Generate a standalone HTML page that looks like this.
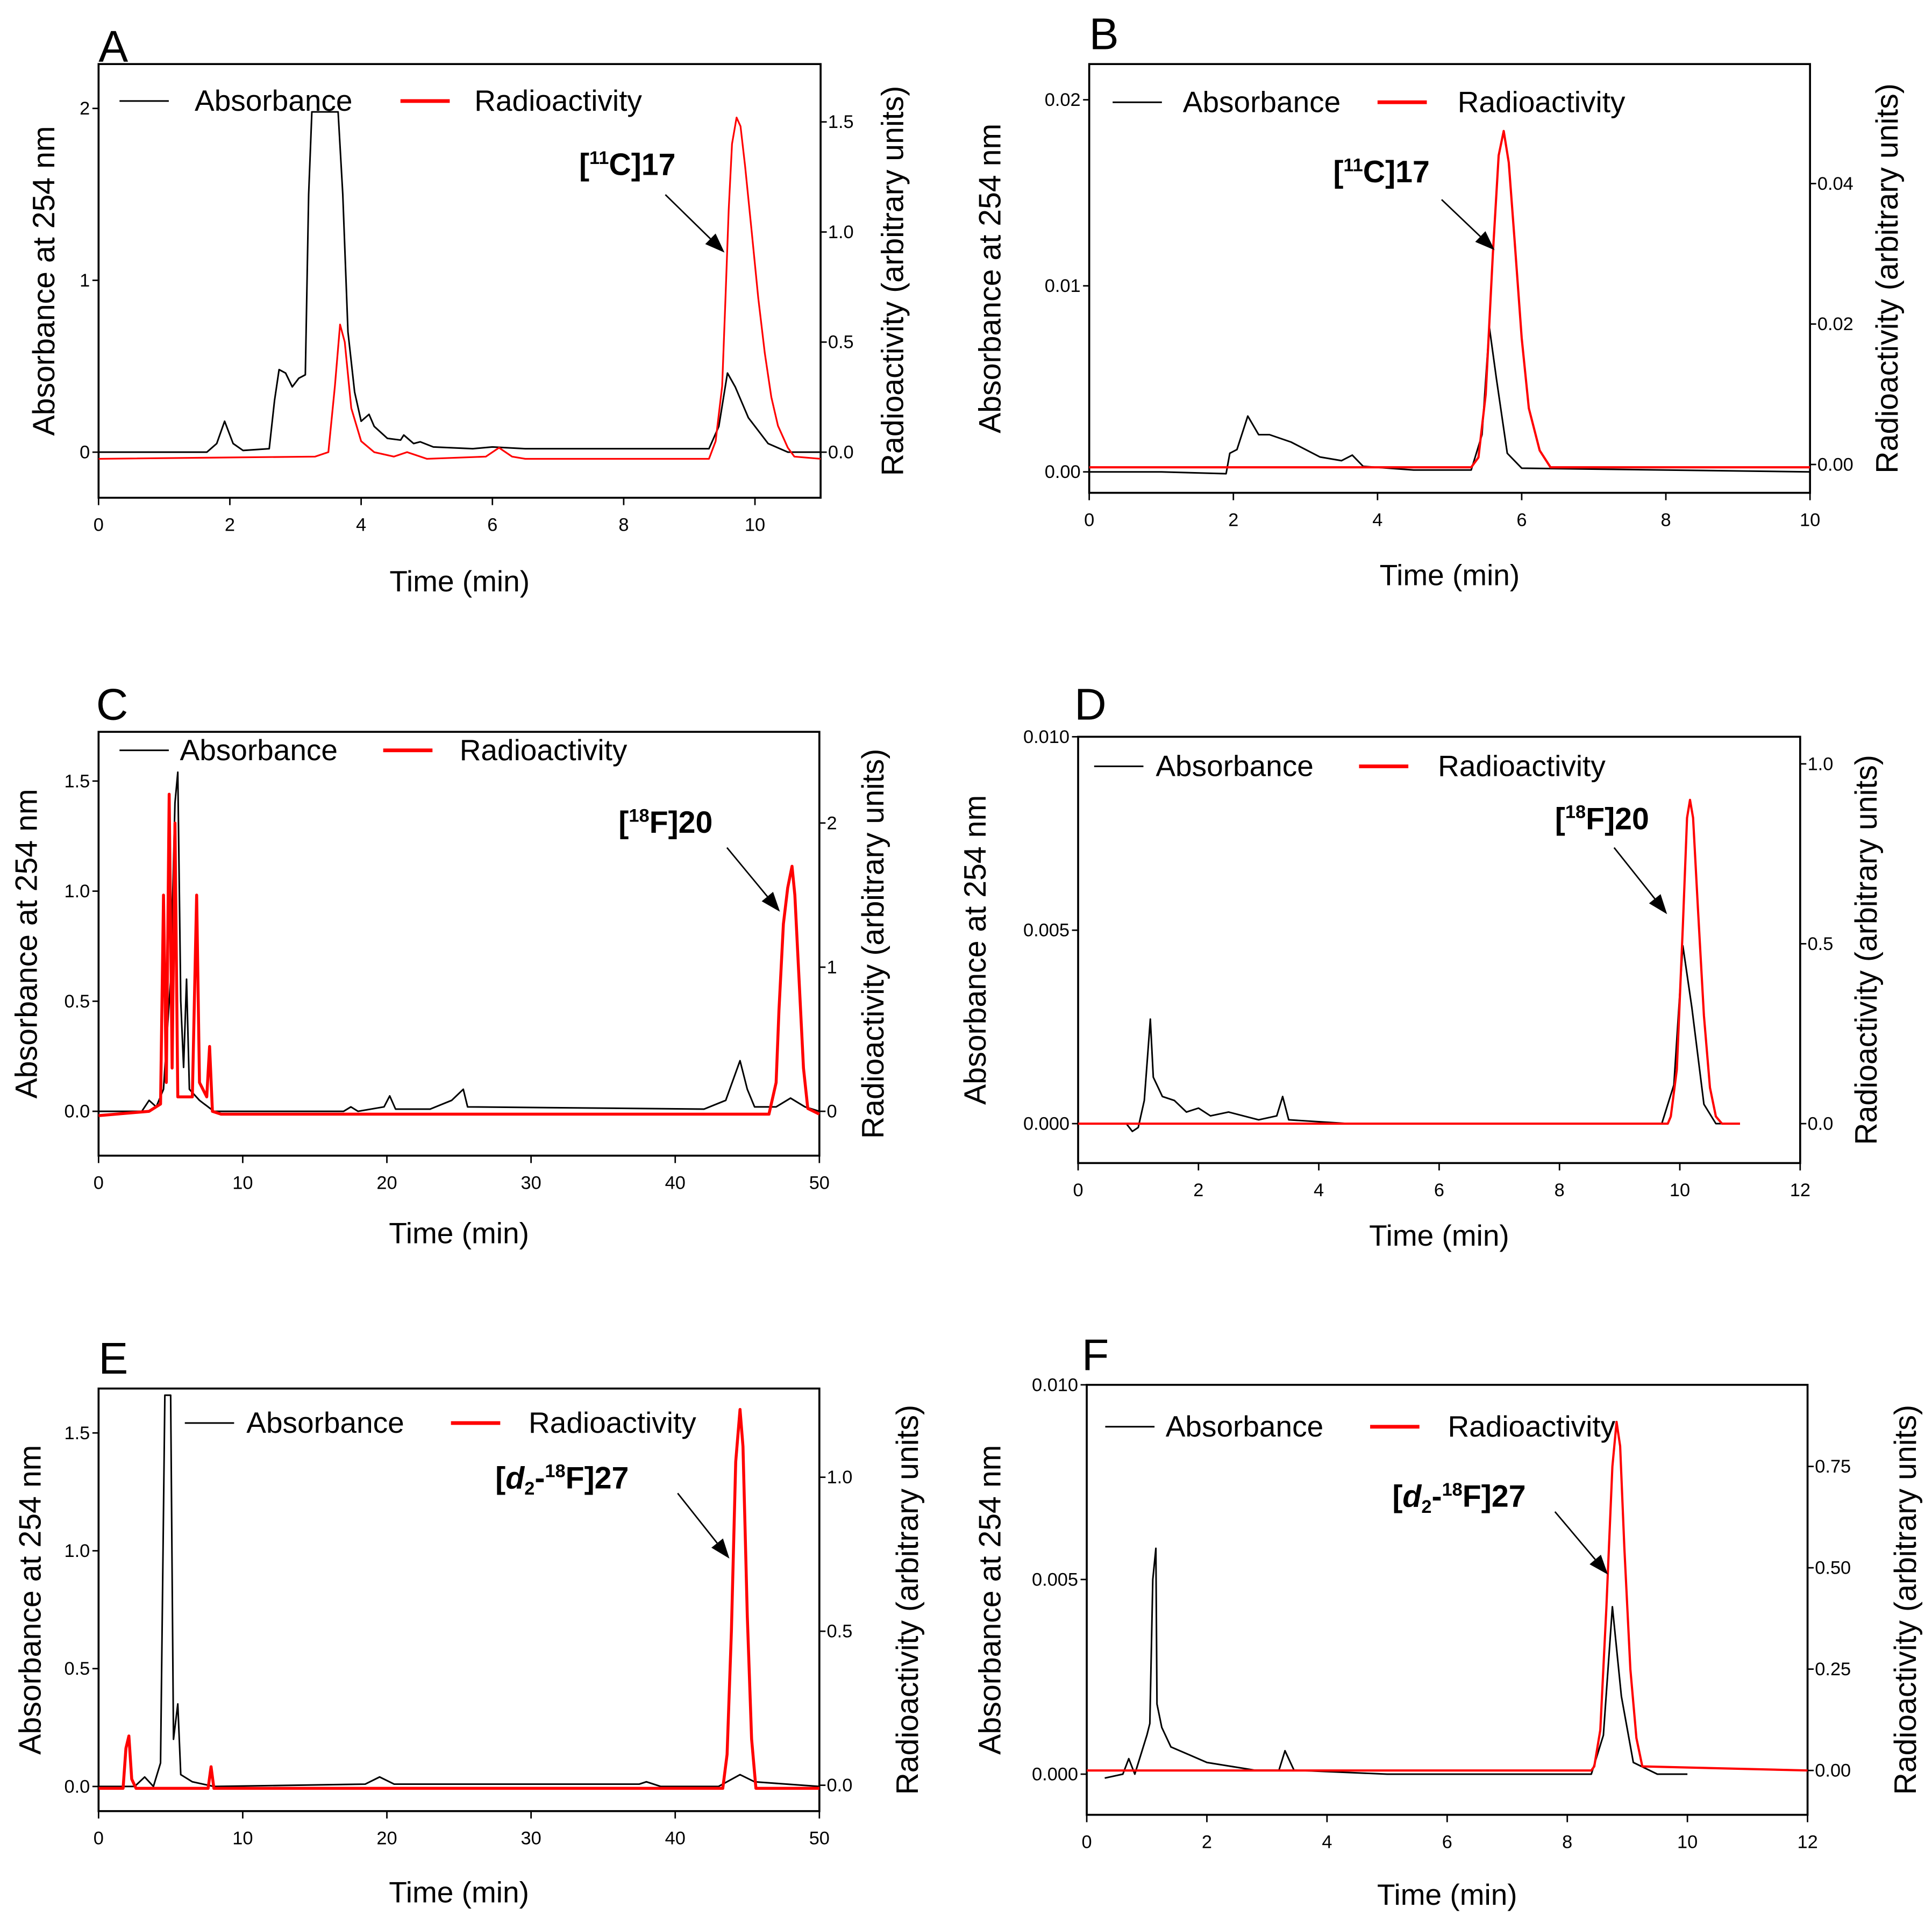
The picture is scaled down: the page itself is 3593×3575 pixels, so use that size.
<!DOCTYPE html>
<html><head><meta charset="utf-8"><style>
html,body{margin:0;padding:0;background:#fff}
svg{display:block}
text{font-family:"Liberation Sans",Arial,sans-serif}
</style></head><body>
<svg id="fig" xmlns="http://www.w3.org/2000/svg" width="3593" height="3575" viewBox="0 0 1568 1560" preserveAspectRatio="none"></svg>
<script>
// ---- Data (time in min, absorbance in AU, radioactivity in arbitrary units) ----
const aAbsT=[0,1.65,1.8,1.92,2.05,2.2,2.6,2.68,2.75,2.85,2.95,3.05,3.15,3.2,3.25,3.65,3.72,3.8,3.9,4.0,4.12,4.2,4.4,4.6,4.65,4.8,4.9,5.1,5.7,6,6.5,9.3,9.45,9.58,9.7,9.9,10.2,10.5,11];
const aAbsV=[0,0,0.05,0.18,0.05,0.01,0.02,0.3,0.48,0.46,0.38,0.43,0.45,1.5,1.98,1.98,1.5,0.7,0.35,0.18,0.22,0.15,0.08,0.07,0.1,0.05,0.06,0.03,0.02,0.03,0.02,0.02,0.15,0.46,0.38,0.2,0.05,0,0];
const aRadT=[0,3.3,3.5,3.6,3.68,3.75,3.85,4.0,4.2,4.5,4.7,5,5.9,6.1,6.3,6.5,9.3,9.4,9.5,9.55,9.6,9.65,9.72,9.78,9.85,9.95,10.05,10.15,10.25,10.35,10.5,10.6,11];
const aRadV=[-0.03,-0.02,0,0.3,0.58,0.5,0.2,0.05,0,-0.02,0,-0.03,-0.02,0.02,-0.02,-0.03,-0.03,0.05,0.3,0.7,1.1,1.4,1.52,1.48,1.3,1.0,0.7,0.45,0.25,0.12,0.02,-0.02,-0.03];

const bAbsT=[0,1,1.9,1.95,2.05,2.2,2.35,2.5,2.8,3.2,3.5,3.65,3.8,4.5,5.3,5.45,5.55,5.65,5.8,6,10];
const bAbsV=[0,0,-0.0001,0.001,0.0012,0.003,0.002,0.002,0.0016,0.0008,0.0006,0.0009,0.0003,0.0001,0.0001,0.002,0.0078,0.005,0.001,0.0002,0];
const bRadT=[0,5.3,5.4,5.5,5.6,5.68,5.75,5.82,5.9,6.0,6.1,6.25,6.4,10];
const bRadV=[-0.0004,-0.0004,0.001,0.01,0.03,0.044,0.0475,0.043,0.032,0.018,0.008,0.002,-0.0004,-0.0004];

const cAbsT=[0,3,3.5,4,4.5,5.0,5.3,5.5,5.7,5.9,6.1,6.3,7,8,17,17.5,18,19.8,20.2,20.6,23,24.5,25.3,25.6,42,43.5,44.5,45,45.5,47,48,49,50];
const cAbsV=[0,0,0.05,0.02,0.1,0.6,1.4,1.54,0.5,0.2,0.6,0.1,0.05,0,0,0.02,0,0.02,0.07,0.01,0.01,0.05,0.1,0.02,0.01,0.05,0.23,0.1,0.02,0.02,0.06,0.02,0];
const cRadT=[0,3.5,4.3,4.5,4.7,4.9,5.1,5.3,5.5,6.5,6.8,7.0,7.5,7.7,7.9,8.5,46.5,47,47.2,47.5,47.8,48.1,48.3,48.6,48.9,49.2,50];
const cRadV=[-0.03,0,0.05,1.5,0.2,2.2,0.3,2.0,0.1,0.1,1.5,0.2,0.1,0.45,0,-0.02,-0.02,0.2,0.7,1.3,1.55,1.7,1.5,0.9,0.3,0.02,-0.02];

const dAbsT=[0,0.8,0.9,1.0,1.1,1.2,1.25,1.4,1.6,1.8,2.0,2.2,2.5,3.0,3.3,3.4,3.5,4.5,9.7,9.9,10.05,10.2,10.4,10.6,11];
const dAbsV=[0,0,-0.0002,-0.0001,0.0006,0.0027,0.0012,0.0007,0.0006,0.0003,0.0004,0.0002,0.0003,0.0001,0.0002,0.0007,0.0001,0,0,0.001,0.0046,0.003,0.0005,0,0];
const dRadT=[0,9.8,9.85,9.95,10.05,10.12,10.17,10.22,10.3,10.4,10.5,10.6,10.7,11];
const dRadV=[0,0,0.02,0.15,0.55,0.85,0.9,0.85,0.6,0.3,0.1,0.02,0,0];

const eAbsT=[0,2.5,3.2,3.8,4.3,4.6,5.0,5.2,5.5,5.7,6.5,8,18.5,19.5,20.5,37.5,38,39,43,44.5,45.5,50];
const eAbsV=[0,0,0.04,0,0.1,1.66,1.66,0.2,0.35,0.05,0.02,0,0.01,0.04,0.01,0.01,0.02,0,0,0.05,0.02,0];
const eRadT=[0,1.7,1.9,2.1,2.3,2.6,7.6,7.8,8.0,43.3,43.6,43.9,44.2,44.5,44.7,45.0,45.3,45.6,50];
const eRadV=[-0.01,-0.01,0.12,0.16,0.02,-0.01,-0.01,0.06,-0.01,-0.01,0.1,0.5,1.05,1.22,1.1,0.55,0.15,-0.01,-0.01];

const fAbsT=[0.3,0.6,0.7,0.8,1.0,1.05,1.1,1.15,1.17,1.25,1.4,1.7,2.0,2.8,3.2,3.3,3.45,5,7,8.4,8.6,8.75,8.9,9.1,9.5,10];
const fAbsV=[-0.0001,0,0.0004,0,0.001,0.0013,0.005,0.0058,0.0018,0.0012,0.0007,0.0005,0.0003,0.0001,0.0001,0.0006,0.0001,0,0,0,0.001,0.0043,0.002,0.0003,0,0];
const fRadT=[0,8.4,8.45,8.55,8.65,8.75,8.82,8.88,8.95,9.05,9.15,9.25,12];
const fRadV=[0,0,0.01,0.1,0.4,0.75,0.86,0.8,0.55,0.25,0.08,0.01,0];

const aXTicks=[0,2,4,6,8,10], aLTicks=[0,1,2], aRTicks=[0,0.5,1.0,1.5];
const bXTicks=[0,2,4,6,8,10], bLTicks=[0,0.01,0.02], bRTicks=[0,0.02,0.04];
const cXTicks=[0,10,20,30,40,50], cLTicks=[0,0.5,1.0,1.5], cRTicks=[0,1,2];
const dXTicks=[0,2,4,6,8,10,12], dLTicks=[0,0.005,0.010], dRTicks=[0,0.5,1.0];
const eXTicks=[0,10,20,30,40,50], eLTicks=[0,0.5,1.0,1.5], eRTicks=[0,0.5,1.0];
const fXTicks=[0,2,4,6,8,10,12], fLTicks=[0,0.005,0.010], fRTicks=[0,0.25,0.5,0.75];

const NS="http://www.w3.org/2000/svg";
const svg=document.getElementById('fig');
function el(tag,attrs,parent,txt){const e=document.createElementNS(NS,tag);for(const k in attrs)e.setAttribute(k,attrs[k]);if(txt!==undefined)e.textContent=txt;(parent||svg).appendChild(e);return e;}

function panel(p){
  const g=el('g',{});
  
  
  const {x0,x1,y0,y1}=p;
  const sx=t=>x0+(t-p.xmin)/(p.xmax-p.xmin)*(x1-x0);
  const syL=v=>p.l0-(v)*p.lk;
  const syR=v=>p.r0-(v)*p.rk;
  const lt=el('text',{x:p.lx,y:p.ly,'font-size':36},g,p.id);
  
  
  const bx=el('rect',{x:x0,y:y0,width:x1-x0,height:y1-y0,fill:'none',stroke:'#000','stroke-width':1.6},g);
  
  
  p.xt.forEach(t=>{const X=sx(t);
    el('line',{x1:X,y1:y1,x2:X,y2:y1+6,stroke:'#000','stroke-width':1.2},g);
    const tl=el('text',{x:X,y:y1+27,'font-size':15,'text-anchor':'middle'},g,t);
    
    
  });
  p.lt.forEach(v=>{const Y=syL(v);
    el('line',{x1:x0-5,y1:Y,x2:x0,y2:Y,stroke:'#000','stroke-width':1.2},g);
    const tl=el('text',{x:x0-7,y:Y+5,'font-size':15,'text-anchor':'end'},g,p.lf(v));
    
    
  });
  p.rt.forEach(v=>{const Y=syR(v);
    el('line',{x1:x1,y1:Y,x2:x1+5,y2:Y,stroke:'#000','stroke-width':1.2},g);
    const tl=el('text',{x:x1+6,y:Y+5,'font-size':15},g,p.rf(v));
    
    
  });
  const yc=(y0+y1)/2;
  const lt2=el('text',{x:p.ltx,y:yc,'font-size':25,'text-anchor':'middle',transform:`rotate(-90 ${p.ltx} ${yc})`},g,'Absorbance at 254 nm');
  
  
  const rt2=el('text',{x:p.rtx,y:yc,'font-size':25,'text-anchor':'middle',transform:`rotate(-90 ${p.rtx} ${yc})`},g,'Radioactivity (arbitrary units)');
  
  
  const xt=el('text',{x:(x0+x1)/2,y:p.xty,'font-size':24,'text-anchor':'middle'},g,'Time (min)');
  
  
  const mk=(T,V,sy)=>T.map((t,i)=>sx(t).toFixed(1)+','+sy(V[i]).toFixed(1)).join(' ');
  const ab=el('polyline',{points:mk(p.at,p.av,syL),fill:'none',stroke:'#000','stroke-width':1.3,'stroke-linejoin':'round'},g);
  
  
  const rd=el('polyline',{points:mk(p.rtT,p.rv,syR),fill:'none',stroke:'#f00','stroke-width':p.rw,'stroke-linejoin':'round'},g);
  
  
  const lg=el('g',{},g);
  
  
  el('line',{x1:p.lg[0],y1:p.lg[1],x2:p.lg[0]+40,y2:p.lg[1],stroke:'#000','stroke-width':1.3},lg);
  el('text',{x:p.lg[2],y:p.lg[1]+8,'font-size':24},lg,'Absorbance');
  el('line',{x1:p.lg[3],y1:p.lg[1],x2:p.lg[3]+40,y2:p.lg[1],stroke:'#f00','stroke-width':3},lg);
  el('text',{x:p.lg[4],y:p.lg[1]+8,'font-size':24},lg,'Radioactivity');
  const an=el('text',{x:p.an[0],y:p.an[1],'font-size':25,'font-weight':'bold'},g);
  
  
  if(p.d2){
    el('tspan',{},an,'[');
    el('tspan',{'font-style':'italic'},an,'d');
    el('tspan',{'font-size':15,dy:5},an,'2');
    el('tspan',{dy:-5},an,'-');
    el('tspan',{'font-size':15,dy:-9},an,p.iso);
    el('tspan',{dy:9},an,p.lab);
  } else {
    el('tspan',{},an,'[');
    el('tspan',{'font-size':15,dy:-9},an,p.iso);
    el('tspan',{dy:9},an,p.lab);
  }
  const [ax1,ay1,ax2,ay2]=p.ar;
  const ang=Math.atan2(ay2-ay1,ax2-ax1), L=16, W=6;
  const bxp=ax2-L*Math.cos(ang), byp=ay2-L*Math.sin(ang);
  const arw=el('g',{},g);
  
  
  el('line',{x1:ax1,y1:ay1,x2:bxp,y2:byp,stroke:'#000','stroke-width':1.2},arw);
  el('polygon',{points:`${ax2},${ay2} ${bxp+W*Math.sin(ang)},${byp-W*Math.cos(ang)} ${bxp-W*Math.sin(ang)},${byp+W*Math.cos(ang)}`,fill:'#000'},arw);
}

const f1=v=>v.toFixed(1), f0=v=>String(v), f2=v=>v.toFixed(2), f3=v=>v.toFixed(3);
panel({id:'A',x0:80,x1:666,y0:52,y1:404,xmin:0,xmax:11,l0:367,lk:139.5,r0:367,rk:178.7,
  xt:aXTicks,lt:aLTicks,rt:aRTicks,lf:f0,rf:f1,lx:80,ly:50,ltx:44,rtx:733,xty:480,
  at:aAbsT,av:aAbsV,rtT:aRadT,rv:aRadV,rw:1.4,lg:[97,82,158,325,385],an:[470,142],iso:'11',lab:'C]17',ar:[540,158,588,205]});
panel({id:'B',x0:884,x1:1469,y0:52,y1:400,xmin:0,xmax:10,l0:383,lk:15100,r0:377,rk:5700,
  xt:bXTicks,lt:bLTicks,rt:bRTicks,lf:f2,rf:f2,lx:884,ly:40,ltx:812,rtx:1540,xty:475,
  at:bAbsT,av:bAbsV,rtT:bRadT,rv:bRadV,rw:1.8,lg:[903,83,960,1118,1183],an:[1082,148],iso:'11',lab:'C]17',ar:[1170,162,1213,203]});
panel({id:'C',x0:80,x1:665,y0:594,y1:938,xmin:0,xmax:50,l0:902,lk:178.7,r0:902,rk:117,
  xt:cXTicks,lt:cLTicks,rt:cRTicks,lf:f1,rf:f0,lx:78,ly:584,ltx:30,rtx:717,xty:1009,
  at:cAbsT,av:cAbsV,rtT:cRadT,rv:cRadV,rw:2.4,lg:[97,609,146,311,373],an:[502,676],iso:'18',lab:'F]20',ar:[590,688,633,740]});
panel({id:'D',x0:875,x1:1461,y0:598,y1:944,xmin:0,xmax:12,l0:912,lk:31400,r0:912,rk:292,
  xt:dXTicks,lt:dLTicks,rt:dRTicks,lf:f3,rf:f1,lx:872,ly:584,ltx:800,rtx:1523,xty:1011,
  at:dAbsT,av:dAbsV,rtT:dRadT,rv:dRadV,rw:1.8,lg:[888,622,938,1103,1167],an:[1262,673],iso:'18',lab:'F]20',ar:[1310,688,1353,742]});
panel({id:'E',x0:80,x1:665,y0:1127,y1:1470,xmin:0,xmax:50,l0:1450,lk:191.3,r0:1449,rk:250,
  xt:eXTicks,lt:eLTicks,rt:eRTicks,lf:f1,rf:f1,lx:80,ly:1115,ltx:33,rtx:745,xty:1544,
  at:eAbsT,av:eAbsV,rtT:eRadT,rv:eRadV,rw:2.4,lg:[150,1155,200,366,429],an:[402,1208],iso:'18',lab:'F]27',d2:true,ar:[550,1212,592,1265]});
panel({id:'F',x0:882,x1:1467,y0:1124,y1:1473,xmin:0,xmax:12,l0:1440,lk:31600,r0:1437,rk:329,
  xt:fXTicks,lt:fLTicks,rt:fRTicks,lf:f3,rf:f2,lx:878,ly:1112,ltx:812,rtx:1555,xty:1546,
  at:fAbsT,av:fAbsV,rtT:fRadT,rv:fRadV,rw:1.8,lg:[897,1158,946,1112,1175],an:[1130,1223],iso:'18',lab:'F]27',d2:true,ar:[1262,1227,1305,1278]});
</script>
</body></html>
